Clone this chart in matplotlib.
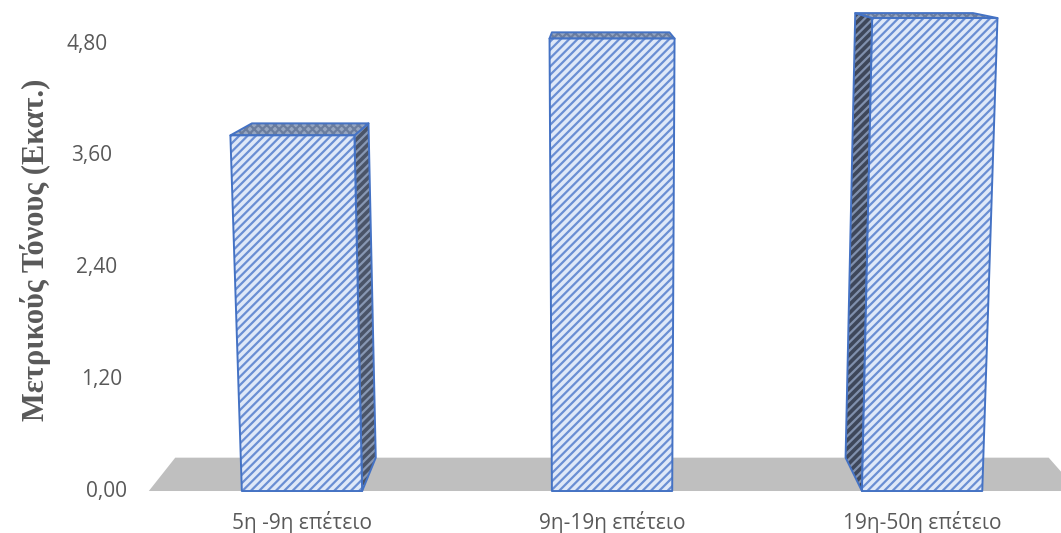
import numpy as np
import matplotlib
matplotlib.use('Agg')
import matplotlib.pyplot as plt
from matplotlib.patches import Polygon

categories = ['5η -9η επέτειο', '9η-19η επέτειο', '19η-50η επέτειο']
tonnes = [3.82, 4.86, 5.08]
yticks = [0.0, 1.2, 2.4, 3.6, 4.8]
ytick_labels = ['0,00', '1,20', '2,40', '3,60', '4,80']

plt.rcParams['hatch.linewidth'] = 1.6

fig = plt.figure(figsize=(10.61, 5.33), dpi=100)
ax = fig.add_axes([0, 0, 1, 1])
ax.set_xlim(-0.974, 2.448)
ax.set_ylim(-0.451, 5.274)
ax.axis('off')

# 3d look: depth goes towards a vanishing point, verticals lean slightly outwards
vp = np.array([0.926, 5.97])
depth = 0.06
lean = 0.0081
mid = 1.0
half_w = 0.194

def front(c, v):
    return np.array([mid + (c - mid) * (1 + lean * v), v])

def back(p):
    return p + depth * (vp - p)

def face(pts, fc, hc, hatch, z):
    ax.add_patch(Polygon(pts, closed=True, facecolor=fc, edgecolor=hc,
                         hatch=hatch, linewidth=0, zorder=z))
    ax.add_patch(Polygon(pts, closed=True, fill=False, edgecolor='#4472C4',
                         linewidth=1.4, joinstyle='round', zorder=z + 0.5))

# floor
fl = np.array([-0.494, 0.0])
fr = np.array([2.503, 0.0])
ax.add_patch(Polygon([fl, fr, back(fr), back(fl)], closed=True,
                     facecolor='#BFBFBF', edgecolor='none', zorder=1))

for i, v in enumerate(tonnes):
    bl = front(i - half_w, 0)
    br = front(i + half_w, 0)
    tr = front(i + half_w, v)
    tl = front(i - half_w, v)
    if vp[0] > br[0]:
        face([br, tr, back(tr), back(br)], '#4A5468', '#8797B3', '////', 2)
    elif vp[0] < bl[0]:
        face([bl, tl, back(tl), back(bl)], '#3E475A', '#8090AD', '////', 2)
    face([tl, tr, back(tr), back(tl)], '#97A6C0', '#6B7D9E', 'xxxx', 3)
    face([bl, br, tr, tl], '#DFE8F8', '#6A8ED3', '////', 4)
    ax.text(i, -0.333, categories[i], ha='center', va='center',
            fontsize=15, color='#595959', family='Open Sans')

for v, lab in zip(yticks, ytick_labels):
    ax.text(-0.565 - 0.0129 * v, v, lab, ha='right', va='center',
            fontsize=15, color='#595959', family='Open Sans')

fig.text(0.033, 0.531, 'Μετρικούς Τόνους (Εκατ.)', rotation=90,
         ha='center', va='center', fontsize=22, fontweight='bold',
         color='#595959', family='Liberation Serif')

fig.savefig('out.png', dpi=100)
